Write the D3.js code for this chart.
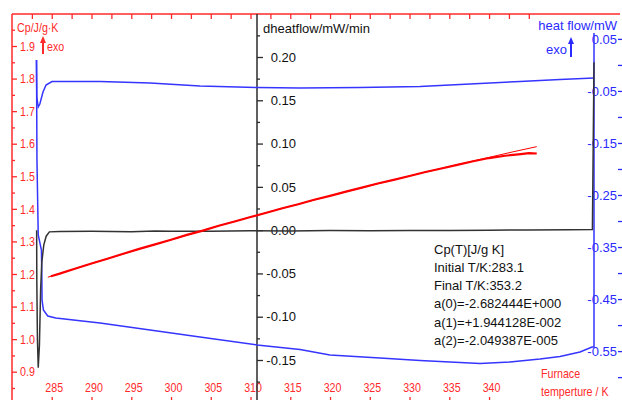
<!DOCTYPE html>
<html>
<head>
<meta charset="utf-8">
<script src="https://cdn.jsdelivr.net/npm/d3@7"></script>
<style>
  body { margin: 0; background: #fff; }
  svg { display: block; font-family: "Liberation Sans", Arial, sans-serif; }
  .chart text { font-size: 13px; }
</style>
</head>
<body>
<svg class="chart" width="622" height="400"></svg>
<script>
// temperature ticks (K)
var temp_labels = [285, 290, 295, 300, 305, 310, 315, 320, 325, 330, 335, 340];
var temp_top_ticks = [282.5, 285, 287.5, 290, 292.5, 295, 297.5, 300, 302.5, 305, 307.5, 310, 312.5,
  315, 317.5, 320, 322.5, 325, 327.5, 330, 332.5, 335, 337.5, 340, 342.5, 345];
// Cp axis (left)
var cp_ticks = [0.9, 1.0, 1.1, 1.2, 1.3, 1.4, 1.5, 1.6, 1.7, 1.8, 1.9];
var cp_minor = [0.85, 0.95, 1.05, 1.15, 1.25, 1.35, 1.45, 1.55, 1.65, 1.75, 1.85, 1.95];
// dheatflow axis (middle)
var dhf_ticks = [-0.15, -0.10, -0.05, 0.00, 0.05, 0.10, 0.15, 0.20];
var dhf_minor = [-0.175, -0.125, -0.075, -0.025, 0.025, 0.075, 0.125, 0.175, 0.225];
// heat flow axis (right)
var hf_ticks = [-0.55, -0.45, -0.35, -0.25, -0.15, -0.05, 0.05];
var hf_minor = [-0.60, -0.50, -0.40, -0.30, -0.20, -0.10, 0.00];

// Cp measured (red, noisy)
var cp_T = [284.9, 286, 288, 290, 292, 294, 296, 298, 300, 302, 304, 306, 308, 310, 312, 314, 316, 318,
  320, 322, 324, 326, 328, 330, 332, 334, 336, 338, 340, 342, 344, 345, 346];
var cp_val = [1.193, 1.201, 1.217, 1.232, 1.247, 1.262, 1.277, 1.291, 1.305, 1.320, 1.333, 1.348, 1.361, 1.375,
  1.388, 1.402, 1.414, 1.428, 1.440, 1.453, 1.465, 1.478, 1.489, 1.501, 1.513, 1.524, 1.535, 1.546,
  1.556, 1.563, 1.568, 1.571, 1.570];
// Cp fit (thin red)
var fit_T = [284.5, 290, 295, 300, 305, 310, 315, 320, 325, 330, 335, 340, 343, 346];
var fit_val = [1.190, 1.232, 1.269, 1.305, 1.341, 1.375, 1.408, 1.440, 1.471, 1.501, 1.530, 1.558, 1.575, 1.591];

// dheatflow (black)
var dhf_T = [283.10, 283.12, 283.20, 283.30, 283.45, 283.60, 283.75, 284.00, 284.30, 284.70, 286, 290, 295,
  298, 300, 305, 310, 315, 320, 325, 330, 335, 340, 345, 350, 353.0, 353.2];
var dhf_val = [0.000, -0.058, -0.127, -0.159, -0.133, -0.069, -0.037, -0.017, -0.007, -0.002, -0.0015, -0.0012,
  -0.0018, -0.0010, -0.0014, -0.0012, -0.0006, -0.0009, -0.0004, -0.0007, -0.0003, -0.0005, 0.0000,
  0.0003, 0.0004, 0.0006, 0.194];

// heat flow (blue), upper branch
var hf_top_T = [283.08, 283.12, 283.30, 283.50, 283.90, 284.28, 285.03, 291.07, 297.36, 303.64, 310.81,
  316.22, 323.77, 331.31, 337.60, 343.89, 348.92, 353.2];
var hf_top_val = [0.0104, -0.0607, -0.0799, -0.0742, -0.0511, -0.0377, -0.0309, -0.0309, -0.0338, -0.0396,
  -0.0425, -0.0434, -0.0425, -0.0405, -0.0357, -0.0309, -0.0271, -0.0242];
// heat flow (blue), lower branch
var hf_bot_T = [283.08, 283.14, 283.30, 283.70, 283.75, 283.78, 283.95, 284.50, 285.50, 291.07, 297.36,
  303.64, 310.81, 316.22, 319.99, 326.28, 331.31, 338.86, 342.63, 346.41, 348.92, 351.44, 352.95, 353.2, 353.2];
var hf_bot_val = [0.0104, -0.1818, -0.3259, -0.3547, -0.4028, -0.4508, -0.4700, -0.4816, -0.4854, -0.4950,
  -0.5085, -0.5219, -0.5373, -0.5459, -0.5565, -0.5623, -0.5671, -0.5728, -0.5700, -0.5642, -0.5594,
  -0.5507, -0.5411, -0.5411, 0.0622];

var red = "#ff2a2a", blue = "#2a2aff", dark = "#2b2b2b";

var x = d3.scaleLinear().domain([280, 353.2]).range([12, 594]);
var yL = d3.scaleLinear().domain([0.9, 1.9]).range([371.7, 46]);
var yM = d3.scaleLinear().domain([-0.15, 0.20]).range([360, 57]);
var yR = d3.scaleLinear().domain([-0.55, 0.05]).range([351.6, 39.4]);

var svg = d3.select(".chart");

function fmt(d, n) { return d.toFixed(n).replace("\u2212", "-"); }

// red texts in the original use a narrow face: squeeze them
function narrow(sel) {
  sel.each(function() {
    var w = this.getComputedTextLength();
    d3.select(this).attr("textLength", w * 0.82).attr("lengthAdjust", "spacingAndGlyphs");
  });
}

// ---- left red axis
svg.append("line").attr("x1", 12).attr("x2", 12).attr("y1", 14).attr("y2", 400)
  .attr("stroke", red).attr("stroke-width", 1.5);
svg.append("line").attr("x1", 12).attr("x2", 620).attr("y1", 14).attr("y2", 14)
  .attr("stroke", red).attr("stroke-width", 1.5);

var left_ax = svg.append("g").attr("transform", "translate(12,0)")
  .call(d3.axisRight(yL).tickValues(cp_ticks).tickSize(5).tickPadding(3).tickSizeOuter(0)
    .tickFormat(function(d) { return fmt(d, 1); }));
var left_minor = svg.append("g").attr("transform", "translate(12,0)")
  .call(d3.axisRight(yL).tickValues(cp_minor).tickSize(3).tickFormat(""));

// ---- top and bottom temperature ticks
var top_ax = svg.append("g").attr("transform", "translate(0,14)")
  .call(d3.axisBottom(x).tickValues(temp_top_ticks).tickSize(5).tickFormat(""));
var bot_ax = svg.append("g").attr("transform", "translate(0,403)")
  .call(d3.axisTop(x).tickValues(temp_labels).tickSize(6).tickPadding(5)
    .tickFormat(function(d) { return d; }));
bot_ax.selectAll("text").attr("x", 2);

[left_ax, left_minor, top_ax, bot_ax].forEach(function(g) {
  g.attr("font-family", null).attr("font-size", null);
  g.select(".domain").remove();
  g.selectAll("line").attr("stroke", red).attr("stroke-width", 1.3);
  g.selectAll("text").attr("fill", red).call(narrow);
});

// ---- middle black axis
svg.append("line").attr("x1", 257).attr("x2", 257).attr("y1", 14).attr("y2", 400)
  .attr("stroke", dark).attr("stroke-width", 1.5);
var mid_ax = svg.append("g").attr("transform", "translate(257,0)")
  .call(d3.axisRight(yM).tickValues(dhf_ticks).tickSize(6).tickSizeOuter(0)
    .tickFormat(function(d) { return fmt(d, 2); }));
var mid_minor = svg.append("g").attr("transform", "translate(257,0)")
  .call(d3.axisRight(yM).tickValues(dhf_minor).tickSize(3).tickFormat(""));
[mid_ax, mid_minor].forEach(function(g) {
  g.attr("font-family", null).attr("font-size", null);
  g.select(".domain").remove();
  g.selectAll("line").attr("stroke", dark).attr("stroke-width", 1.3);
});
mid_ax.selectAll("text").attr("x", 39).attr("text-anchor", "end").attr("fill", "#111");

// ---- right blue axis (labels + ticks at the right edge)
var right_ax = svg.append("g").attr("transform", "translate(594,0)")
  .call(d3.axisRight(yR).tickValues(hf_ticks).tickSize(0).tickPadding(23).tickSizeOuter(0)
    .tickFormat(function(d) { return fmt(d, 2); }));
right_ax.attr("font-family", null).attr("font-size", null);
right_ax.select(".domain").remove();
right_ax.selectAll("text").attr("text-anchor", "end").attr("fill", blue);
svg.append("g").selectAll("line").data(hf_ticks.concat(hf_minor)).enter().append("line")
  .attr("x1", 618).attr("x2", 622)
  .attr("y1", function(d) { return yR(d); }).attr("y2", function(d) { return yR(d); })
  .attr("stroke", blue).attr("stroke-width", 1.3);

// ---- curves
function path_of(xs, ys, yscale, curve) {
  var pts = xs.map(function(t, i) { return [t, ys[i]]; });
  return d3.line().x(function(d) { return x(d[0]); }).y(function(d) { return yscale(d[1]); })
    .curve(curve || d3.curveLinear)(pts);
}

svg.append("path").attr("d", path_of(hf_top_T, hf_top_val, yR))
  .attr("fill", "none").attr("stroke", "#3535ff").attr("stroke-width", 1.5);
svg.append("path").attr("d", path_of(hf_bot_T, hf_bot_val, yR))
  .attr("fill", "none").attr("stroke", "#3535ff").attr("stroke-width", 1.5);

svg.append("path").attr("d", path_of(dhf_T, dhf_val, yM))
  .attr("fill", "none").attr("stroke", "#333").attr("stroke-width", 1.5);

svg.append("path").attr("d", path_of(cp_T, cp_val, yL))
  .attr("fill", "none").attr("stroke", "#ff0000").attr("stroke-width", 2.2);
svg.append("path").attr("d", path_of(fit_T, fit_val, yL, d3.curveMonotoneX))
  .attr("fill", "none").attr("stroke", "#ff0000").attr("stroke-width", 1);

// ---- titles
function label(tx, ty, txt, col, anchor) {
  return svg.append("text").attr("x", tx).attr("y", ty).attr("fill", col)
    .attr("text-anchor", anchor || "start").text(txt);
}
function arrow(ax, y1, y2, col) {
  svg.append("line").attr("x1", ax).attr("x2", ax).attr("y1", y1).attr("y2", y2 + 5)
    .attr("stroke", col).attr("stroke-width", 2);
  svg.append("path").attr("d", "M" + (ax - 3) + "," + (y2 + 7) + "L" + ax + "," + y2 + "L" + (ax + 3) + "," + (y2 + 7) + "Z")
    .attr("fill", col);
}

label(17, 31.5, "Cp/J/g\u00b7K", red).call(narrow);
label(47, 50.5, "exo", red).call(narrow);
arrow(43, 54, 36, red);

label(263, 32.5, "dheatflow/mW/min", "#111");

label(617, 29.5, "heat flow/mW", blue, "end");
label(546, 53.5, "exo", blue);
arrow(571, 57, 37, blue);

label(541, 377.5, "Furnace", red).call(narrow);
label(541, 396, "temperture / K", red).call(narrow);

var notes = ["Cp(T)[J/g K]", "Initial T/K:283.1", "Final T/K:353.2", "a(0)=-2.682444E+000",
  "a(1)=+1.944128E-002", "a(2)=-2.049387E-005"];
svg.append("g").selectAll("text").data(notes).enter().append("text")
  .attr("x", 434).attr("y", function(d, i) { return 253.5 + i * 18.3; })
  .attr("fill", "#111").text(function(d) { return d; });
</script>
</body>
</html>
